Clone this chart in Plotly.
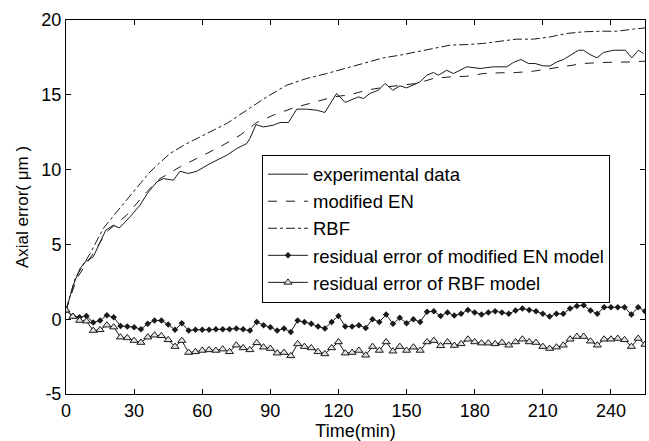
import plotly.graph_objects as go

# ---- data ----
res_time = list(range(0, 256, 3))  # minutes

res_en = [0.6, 0.22, 0.13, 0.22, -0.22, -0.09, 0.27, 0.13, -0.45, -0.49,
          -0.53, -0.67, -0.31, -0.09, -0.09, -0.36, -0.71, -0.27, -0.76, -0.71,
          -0.71, -0.71, -0.67, -0.67, -0.67, -0.62, -0.67, -0.76, -0.18, -0.40,
          -0.53, -0.76, -0.62, -0.85, -0.09, -0.18, -0.31, -0.49, -0.62, -0.18,
          0.22, -0.49, -0.49, -0.40, -0.58, 0.0, -0.18, 0.31, -0.31, 0.09,
          -0.27, 0.0, -0.18, 0.49, 0.53, 0.22, 0.45, 0.25, 0.36, 0.62,
          0.45, 0.31, 0.45, 0.53, 0.45, 0.36, 0.58, 0.71, 0.62, 0.53,
          0.36, 0.18, 0.36, 0.36, 0.71, 0.89, 0.94, 0.58, 0.36, 0.80,
          0.80, 0.80, 0.80, 0.31, 0.80, 0.53]

res_rbf = [0.6, 0.18, -0.09, -0.13, -0.76, -0.71, -0.40, -0.53, -1.20, -1.25,
           -1.43, -1.56, -1.20, -1.07, -1.11, -1.38, -1.83, -1.43, -2.23, -2.18,
           -2.09, -2.05, -2.09, -2.00, -2.18, -1.74, -1.92, -2.05, -1.58, -1.87,
           -1.96, -2.27, -2.23, -2.45, -1.65, -1.83, -1.92, -2.18, -2.32, -1.92,
           -1.52, -2.27, -2.23, -2.09, -2.41, -1.83, -2.09, -1.52, -2.14, -1.83,
           -2.09, -1.87, -2.09, -1.52, -1.43, -1.78, -1.52, -1.76, -1.65, -1.34,
           -1.52, -1.60, -1.60, -1.65, -1.56, -1.74, -1.52, -1.34, -1.52, -1.56,
           -1.83, -1.96, -1.87, -1.74, -1.34, -1.16, -1.16, -1.47, -1.74, -1.34,
           -1.34, -1.29, -1.38, -1.83, -1.29, -1.69]

exp_time = [0, 3.2, 6.2, 8.4, 12, 17.5, 20.8, 23.5, 28.2, 32.6, 35.8, 40, 42.9,
            47.3, 50.2, 53.9, 57.6, 63.4, 70.8, 75.2, 79.6, 81, 83.7, 86.9, 91.3,
            94.3, 98, 101.6, 106, 110.4, 114, 119.2, 122.9, 128.8, 131, 133.9,
            137.6, 140.5, 143.9, 147.1, 150, 155.9, 158.9, 161.8, 164, 167.7,
            170.6, 176.5, 182.4, 188.2, 194.1, 197, 200.3, 203.7, 206.6, 210.3,
            213.2, 216.2, 219.1, 222, 225.7, 227.9, 230.8, 233.8, 236.7, 241.1,
            246.3, 249.2, 252.1, 254.3]
exp_val = [0.6, 2.27, 3.39, 3.83, 4.17, 5.95, 6.28, 6.10, 6.84, 7.62, 8.40, 9.18,
           9.40, 9.29, 9.89, 9.74, 9.89, 10.40, 10.96, 11.41, 11.74, 12.08, 13.01,
           12.85, 12.97, 13.15, 13.15, 14.04, 14.04, 13.97, 13.82, 15.09, 14.49,
           14.86, 14.75, 15.09, 15.31, 15.76, 15.31, 15.60, 15.46, 15.86, 16.31,
           16.49, 16.31, 16.64, 16.42, 16.87, 16.76, 16.87, 16.87, 17.16, 17.36,
           17.09, 17.09, 16.93, 16.93, 17.20, 17.36, 17.65, 17.98, 17.98, 17.69,
           17.47, 17.83, 17.98, 17.98, 17.47, 17.98, 17.76]

en_time = [0, 4.7, 12, 17.9, 26.7, 35.5, 41.4, 50.2, 59, 67.8, 76.7, 84, 91.3,
           100.1, 109, 117.8, 125, 132.5, 139.8, 147, 154.5, 161.8, 169.2, 176.5,
           183.8, 191.2, 198.5, 205.9, 213.2, 220.6, 227.9, 235.2, 242.6, 249.9, 255]
en_val = [0.6, 2.72, 4.39, 5.84, 6.95, 8.51, 9.40, 10.18, 10.85, 11.52, 12.30,
          13.15, 13.64, 14.12, 14.49, 14.86, 15.00, 15.31, 15.50, 15.62, 15.76,
          16.09, 16.20, 16.24, 16.42, 16.47, 16.49, 16.58, 16.76, 16.93, 17.09,
          17.16, 17.16, 17.20, 17.25]

rbf_time = [0, 4, 10.6, 16.4, 22.3, 29.6, 37, 45.8, 53.2, 62, 70.8, 79.6, 88.4,
            97.2, 106, 114.8, 123.7, 132.5, 139.8, 147.1, 154.5, 163.3, 169.2,
            176.5, 183.8, 191.2, 198.5, 205.9, 213.2, 220.6, 227.9, 235.2, 242.6,
            249.9, 255]
rbf_val = [0.6, 2.72, 4.39, 6.06, 7.17, 8.51, 9.85, 11.08, 11.74, 12.41, 13.08,
           13.97, 14.86, 15.64, 16.09, 16.42, 16.80, 17.20, 17.47, 17.65, 17.87,
           18.14, 18.32, 18.36, 18.43, 18.58, 18.72, 18.72, 18.87, 19.10, 19.21,
           19.25, 19.25, 19.39, 19.47]

x_ticks = [0, 30, 60, 90, 120, 150, 180, 210, 240]
y_ticks = [-5, 0, 5, 10, 15, 20]
y_tick_text = ["-5", "0", "5", "10", "15", "20"]

FONT = "Liberation Sans, Arial, sans-serif"

fig = go.Figure()
fig.add_trace(go.Scatter(x=exp_time, y=exp_val, mode="lines", name="experimental data",
                         line=dict(color="#1a1a1a", width=1)))
fig.add_trace(go.Scatter(x=en_time, y=en_val, mode="lines", name="modified EN",
                         line=dict(color="#1a1a1a", width=1, dash="dash")))
fig.add_trace(go.Scatter(x=rbf_time, y=rbf_val, mode="lines", name="RBF",
                         line=dict(color="#1a1a1a", width=1, dash="dashdot")))
fig.add_trace(go.Scatter(x=res_time, y=res_en, mode="lines+markers",
                         name="residual error of modified EN model",
                         line=dict(color="#1a1a1a", width=1),
                         marker=dict(symbol="diamond", size=5, color="#1a1a1a")))
fig.add_trace(go.Scatter(x=res_time, y=res_rbf, mode="lines+markers",
                         name="residual error of RBF model",
                         line=dict(color="#1a1a1a", width=1),
                         marker=dict(symbol="triangle-up", size=7, color="#e4e4e4",
                                     line=dict(color="#1a1a1a", width=1))))

axis_common = dict(showline=True, linecolor="black", linewidth=1, mirror="ticks",
                   ticks="inside", ticklen=5, tickcolor="black", showgrid=False,
                   zeroline=False, automargin=False,
                   tickfont=dict(family=FONT, size=18, color="black"))

fig.update_xaxes(range=[0, 255], tickvals=x_ticks,
                 title=dict(text="Time(min)", font=dict(family=FONT, size=18, color="black"),
                            standoff=4),
                 **axis_common)
fig.update_yaxes(range=[-5, 20], tickvals=y_ticks, ticktext=y_tick_text,
                 title=dict(text="Axial error( μm )", font=dict(family=FONT, size=17, color="black"),
                            standoff=8),
                 **axis_common)

fig.update_layout(
    width=649, height=441,
    margin=dict(l=66, r=4, t=20, b=47),
    paper_bgcolor="white", plot_bgcolor="white",
    font=dict(family=FONT, color="black"),
    legend=dict(x=0.3385, y=0.64, xanchor="left", yanchor="top",
                bgcolor="white", bordercolor="black", borderwidth=1,
                font=dict(family=FONT, size=18.5, color="black"),
                tracegroupgap=0, itemwidth=40),
)

fig.write_html("out.html", config={"displayModeBar": False},
               post_script="document.body.style.margin='0';document.body.style.overflow='hidden';")
